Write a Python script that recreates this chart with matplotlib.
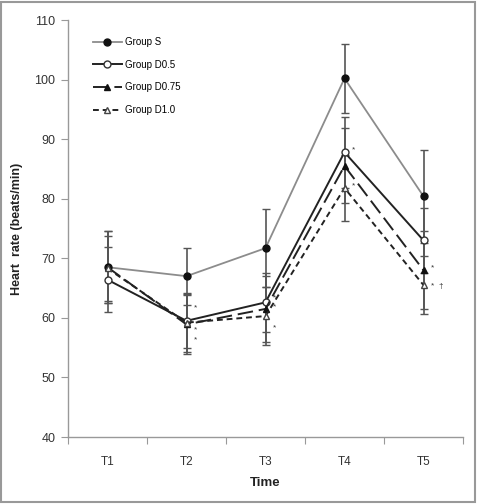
import numpy as np
import matplotlib.pyplot as plt
from matplotlib.patches import Rectangle

# =========================
# DATA
# =========================
times = ["T1", "T2", "T3", "T4", "T5"]

group_s = [68.5, 67.0, 71.7, 100.2, 80.4]
group_s_err = [6.0, 4.8, 6.6, 5.8, 7.8]

group_d05 = [66.4, 59.5, 62.6, 87.8, 73.0]
group_d05_err = [5.5, 4.5, 5.0, 6.0, 5.5]

group_d075 = [68.5, 58.9, 61.5, 85.5, 68.0]
group_d075_err = [6.0, 5.0, 5.5, 6.3, 6.5]

group_d10 = [68.3, 59.2, 60.3, 81.8, 65.5]
group_d10_err = [5.5, 5.0, 4.8, 5.5, 4.8]

# significance marks: (time index, y value, text)
marks = [
    (1, 61.6, "*"), (1, 57.9, "*"), (1, 56.3, "*"),
    (2, 63.4, "*"), (2, 61.8, "*"), (2, 58.3, "*"),
    (3, 88.2, "*"), (3, 82.1, "*"),
    (4, 68.4, "*"), (4, 65.2, "*  \u2020"),
]

# =========================
# PLOT
# =========================
plt.rcParams['font.family'] = ['Liberation Sans', 'DejaVu Sans']

fig = plt.figure(figsize=(4.83, 5.04), dpi=100)
ax = fig.add_axes([68 / 483, 1 - 437 / 504, (463 - 68) / 483, (437 - 20) / 504])

x = np.arange(1, len(times) + 1)
err_kw = dict(ecolor="#555555", elinewidth=1.2, capsize=3, capthick=1.0)

series = [
    (group_s, group_s_err, "Group S", dict(color="#8c8c8c", lw=1.3, ls="-",
                                             marker="o", mfc="#111111", mec="#111111", ms=5)),
    (group_d05, group_d05_err, "Group D0.5", dict(color="#222222", lw=1.4, ls="-",
                                                  marker="o", mfc="white", mec="#333333", ms=5)),
    (group_d075, group_d075_err, "Group D0.75", dict(color="#222222", lw=1.4, ls=(0, (8, 3)),
                                                     marker="^", mfc="#111111", mec="#111111", ms=5)),
    (group_d10, group_d10_err, "Group D1.0", dict(color="#222222", lw=1.4, ls=(0, (3, 2)),
                                                  marker="^", mfc="white", mec="#444444", ms=5)),
]

for vals, errs, label, style in series:
    ax.errorbar(x, vals, yerr=errs, fmt="none", zorder=1, **err_kw)

for vals, errs, label, style in series:
    ax.plot(x, vals, label=label, zorder=3, **style)

for i, y, t in marks:
    ax.text(x[i] + 0.09, y, t, fontsize=6, color="#333333", va="center", ha="left")

ax.set_xlim(0.5, 5.5)
ax.set_ylim(40, 110)
ax.set_yticks(np.arange(40, 111, 10))
ax.set_xticks(np.arange(0.5, 5.6, 1))
ax.set_xticklabels([])
ax.set_xticks(x, minor=True)
ax.set_xticklabels(times, minor=True)
ax.tick_params(axis="x", which="minor", length=0, pad=14, labelsize=8.5, labelcolor="#333333")
ax.tick_params(axis="x", which="major", length=5, color="#999999", direction="out")
ax.tick_params(axis="y", length=5, color="#999999", labelsize=9, labelcolor="#333333", pad=4)

for s in ["top", "right"]:
    ax.spines[s].set_visible(False)
for s in ["left", "bottom"]:
    ax.spines[s].set_color("#999999")
    ax.spines[s].set_linewidth(1.0)

ax.set_xlabel("Time", fontsize=9.5, fontweight="bold", color="#222222", labelpad=6)
ax.set_ylabel("Heart  rate (beats/min)", fontsize=9, fontweight="bold", color="#222222", labelpad=8)

leg = ax.legend(loc="upper left", bbox_to_anchor=(0.04, 0.98), frameon=False, fontsize=7,
                handlelength=3.0, labelspacing=1.3, handletextpad=0.3)

# outer frame around the whole figure
fig.patches.append(Rectangle((1 / 483, 2 / 504), 474 / 483, 500 / 504, transform=fig.transFigure,
                             fill=False, edgecolor="#999999", lw=1.5))

fig.savefig("out.png", dpi=100)
